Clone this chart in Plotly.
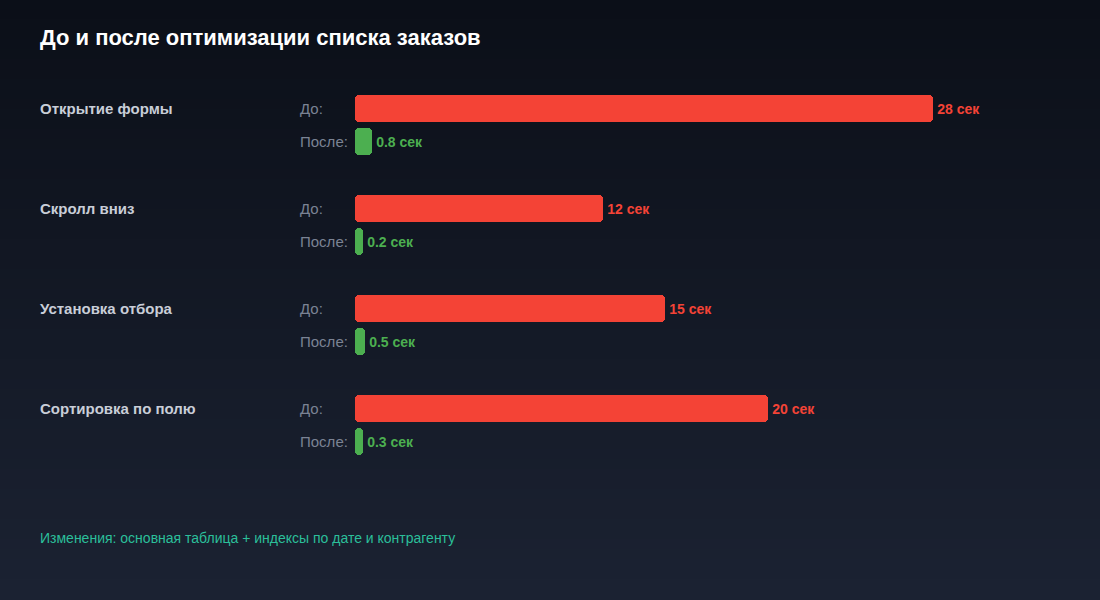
import plotly.graph_objects as go

title = "До и после оптимизации списка заказов"
categories = ["Открытие формы", "Скролл вниз", "Установка отбора", "Сортировка по полю"]
before_sec = [28, 12, 15, 20]
after_sec = [0.8, 0.2, 0.5, 0.3]
before_label = "До:"
after_label = "После:"
unit = "сек"
footer = "Изменения: основная таблица + индексы по дате и контрагенту"

RED = "#f44336"
GREEN = "#4caf50"
FONT = "Liberation Sans, Arial"
W, H = 1100, 600
ML, MR, MT, MB = 355, 100, 58, 92
plot_w = W - ML - MR
px_per_sec = 578 / 28.0
x_max = plot_w / px_per_sec
MIN_BAR_PX = 8  # minimum visible bar length (style)
min_len = MIN_BAR_PX / px_per_sec

rows = list(range(len(categories)))
y_before = [i for i in rows]
y_after = [i + 0.33 for i in rows]

def fmt(v):
    return f"\u200a{v:g} {unit}"

fig = go.Figure()

def add_bars(values, ys, color):
    lengths = [max(v, min_len) for v in values]
    fig.add_trace(go.Bar(
        x=lengths, base=[0] * len(lengths), y=ys, orientation="h", width=0.27,
        marker=dict(color=color, cornerradius=4, line=dict(width=0)),
        text=[fmt(v) for v in values], textposition="outside",
        textfont=dict(color=color, size=14, family=FONT, weight="bold"),
        cliponaxis=False, hoverinfo="skip", showlegend=False,
    ))

add_bars(before_sec, y_before, RED)
add_bars(after_sec, y_after, GREEN)

# gradient background
top = (11, 15, 24)
bot = (27, 34, 50)
n = 60
shapes = []
for k in range(n):
    t = k / (n - 1)
    c = tuple(round(top[j] + (bot[j] - top[j]) * t) for j in range(3))
    y0 = 1 - k / n
    y1 = 1 - (k + 1) / n
    shapes.append(dict(type="rect", xref="paper", yref="paper", layer="below",
                       x0=-ML / plot_w - 0.01, x1=1 + MR / plot_w + 0.01,
                       y0=(y1 * H - MB) / (H - MT - MB) - 0.002,
                       y1=(y0 * H - MB) / (H - MT - MB) + 0.002,
                       line=dict(width=0), fillcolor=f"rgb{c}"))

ann = []
def px_to_paper_x(px):
    return (px - ML) / plot_w

for i, cat in enumerate(categories):
    ann.append(dict(text=cat, x=px_to_paper_x(40), xref="paper", y=y_before[i], yref="y",
                    xanchor="left", yanchor="middle", showarrow=False, xshift=-2,
                    font=dict(size=15, color="#c9ced8", family=FONT, weight="bold")))
    ann.append(dict(text=before_label, x=px_to_paper_x(300), xref="paper", y=y_before[i], yref="y",
                    xanchor="left", yanchor="middle", showarrow=False, xshift=-2,
                    font=dict(size=15, color="#7b8394", family=FONT)))
    ann.append(dict(text=after_label, x=px_to_paper_x(300), xref="paper", y=y_after[i], yref="y",
                    xanchor="left", yanchor="middle", showarrow=False, xshift=-2,
                    font=dict(size=15, color="#7b8394", family=FONT)))

ann.append(dict(text=title, x=px_to_paper_x(40), xref="paper", y=(H - 38 - MB) / (H - MT - MB), yref="paper",
                xanchor="left", yanchor="middle", showarrow=False, xshift=-2,
                font=dict(size=22, color="#ffffff", family=FONT, weight="bold")))
ann.append(dict(text=footer, x=px_to_paper_x(40), xref="paper", y=(H - 538 - MB) / (H - MT - MB), yref="paper",
                xanchor="left", yanchor="middle", showarrow=False, xshift=-2,
                font=dict(size=14, color="#2bbf9a", family=FONT)))

fig.update_layout(
    width=W, height=H,
    margin=dict(l=ML, r=MR, t=MT, b=MB),
    paper_bgcolor="#0f1420", plot_bgcolor="rgba(0,0,0,0)",
    xaxis=dict(range=[0, x_max], visible=False, fixedrange=True),
    yaxis=dict(range=[3.5 + 0.5, -0.5], visible=False, fixedrange=True),
    barmode="overlay", bargap=0,
    shapes=shapes, annotations=ann,
    font=dict(family=FONT),
)

fig.write_html("out.html", config={"displayModeBar": False})
